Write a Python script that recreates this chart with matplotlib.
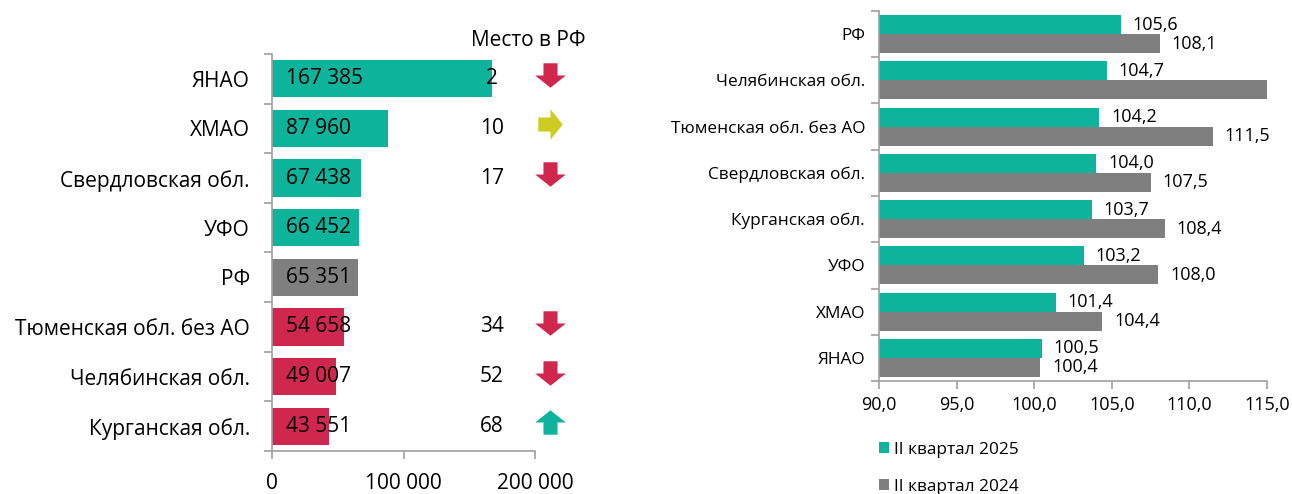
import numpy as np
import matplotlib
matplotlib.use("Agg")
import matplotlib.pyplot as plt
from matplotlib.path import Path

plt.rcParams['font.family'] = ['Open Sans', 'DejaVu Sans']

# левая диаграмма: зарплата
left_regions = ["ЯНАО", "ХМАО", "Свердловская обл.", "УФО", "РФ",
                "Тюменская обл. без АО", "Челябинская обл.", "Курганская обл."]
left_values = [167385, 87960, 67438, 66452, 65351, 54658, 49007, 43551]
left_groups = ["up", "up", "up", "up", "rf", "down", "down", "down"]
ranks = ["2", "10", "17", "", "", "34", "52", "68"]
rank_moves = ["down", "right", "down", None, None, "down", "down", "up"]

# правая диаграмма: индексы
right_regions = ["РФ", "Челябинская обл.", "Тюменская обл. без АО", "Свердловская обл.",
                 "Курганская обл.", "УФО", "ХМАО", "ЯНАО"]
q2_2025 = [105.6, 104.7, 104.2, 104.0, 103.7, 103.2, 101.4, 100.5]
q2_2024 = [108.1, 116.0, 111.5, 107.5, 108.4, 108.0, 104.4, 100.4]
right_ticks = [90, 95, 100, 105, 110, 115]

TEAL = "#0db39a"
RED = "#d0274f"
GREY = "#7f7f7f"
OLIVE = "#cccc22"
AXC = "#a0a0a0"

group_colors = {"up": TEAL, "rf": GREY, "down": RED}
move_colors = {"down": RED, "right": OLIVE, "up": TEAL}

FS_L = 15
FS_R = 12.4
FS_RV = 13


def fmt_space(v):
    return f"{v:,}".replace(",", " ")


def fmt_comma(v):
    return f"{v:.1f}".replace(".", ",")


def arrow_marker(direction):
    verts = np.array([(-0.23, 0.4), (0.23, 0.4), (0.23, 0.0), (0.5, 0.0),
                      (0.0, -0.4), (-0.5, 0.0), (-0.23, 0.0), (-0.23, 0.4)])
    if direction == "right":
        verts = np.column_stack([-verts[:, 1], verts[:, 0]])
    elif direction == "up":
        verts = np.column_stack([verts[:, 0], -verts[:, 1]])
    codes = [Path.MOVETO] + [Path.LINETO] * 6 + [Path.CLOSEPOLY]
    return Path(verts, codes)


def style_axes(ax, n):
    for s in ["top", "right"]:
        ax.spines[s].set_visible(False)
    for s in ["left", "bottom"]:
        ax.spines[s].set_color(AXC)
        ax.spines[s].set_linewidth(1.2)
    ax.set_ylim(n - 0.5, -0.5)
    ax.set_yticks(np.arange(n))
    ax.set_yticks(np.arange(n + 1) - 0.5, minor=True)
    ax.tick_params(axis="y", which="major", length=0)
    ax.tick_params(axis="y", which="minor", length=6, color=AXC, width=1.2)
    ax.tick_params(axis="x", length=6, color=AXC, width=1.2)


fig = plt.figure(figsize=(12.92, 4.94), dpi=100)

# ---- левая ----
ax1 = fig.add_axes([272 / 1292, 1 - 451 / 494, 263 / 1292, 397 / 494])
n = len(left_regions)
y = np.arange(n)
ax1.barh(y, left_values, height=0.75, color=[group_colors[g] for g in left_groups])
style_axes(ax1, n)
ax1.set_yticklabels(left_regions, fontsize=FS_L)
ax1.tick_params(axis="y", pad=16)
ax1.set_xlim(0, 200000)
ax1.set_xticks([0, 100000, 200000])
ax1.set_xticklabels([fmt_space(t) for t in [0, 100000, 200000]], fontsize=FS_L)
ax1.tick_params(axis="x", pad=10)

for i, v in enumerate(left_values):
    ax1.text(11000, i, fmt_space(v), va="center", ha="left", fontsize=FS_L)
    if ranks[i]:
        ax1.text(167300, i, ranks[i], va="center", ha="center", fontsize=FS_L, clip_on=False)
    if rank_moves[i]:
        ax1.plot(211500, i - 0.08, marker=arrow_marker(rank_moves[i]), ms=22,
                 color=move_colors[rank_moves[i]], mec="none", clip_on=False)
ax1.text(195000, 1.035, "Место в РФ", transform=ax1.get_xaxis_transform(),
         ha="center", va="center", fontsize=FS_L)

# ---- правая ----
ax2 = fig.add_axes([879 / 1292, 1 - 381 / 494, 388 / 1292, 370 / 494])
m = len(right_regions)
y2 = np.arange(m)
h = 0.41
b1 = ax2.barh(y2 - h / 2, q2_2025, height=h, color=TEAL, label="II квартал 2025")
b2 = ax2.barh(y2 + h / 2, q2_2024, height=h, color=GREY, label="II квартал 2024")
style_axes(ax2, m)
ax2.set_yticklabels(right_regions, fontsize=FS_R)
ax2.tick_params(axis="y", pad=10)
ax2.set_xlim(90, 115)
ax2.set_xticks(right_ticks)
ax2.set_xticklabels([fmt_comma(t) for t in right_ticks], fontsize=FS_RV)
ax2.tick_params(axis="x", pad=5)

xmax = ax2.get_xlim()[1]
for i in range(m):
    if q2_2025[i] < xmax:
        ax2.text(q2_2025[i] + 0.75, i - h / 2, fmt_comma(q2_2025[i]),
                 va="center", ha="left", fontsize=FS_RV)
    if q2_2024[i] < xmax:
        ax2.text(q2_2024[i] + 0.75, i + h / 2, fmt_comma(q2_2024[i]),
                 va="center", ha="left", fontsize=FS_RV)

fig.legend(handles=[b1, b2], loc="upper left", bbox_to_anchor=(872 / 1292, 1 - 435 / 494),
           frameon=False, fontsize=FS_R, handlelength=0.6, handleheight=0.6,
           handletextpad=0.3, labelspacing=1.2, borderaxespad=0)

fig.savefig("out.png", dpi=100)
